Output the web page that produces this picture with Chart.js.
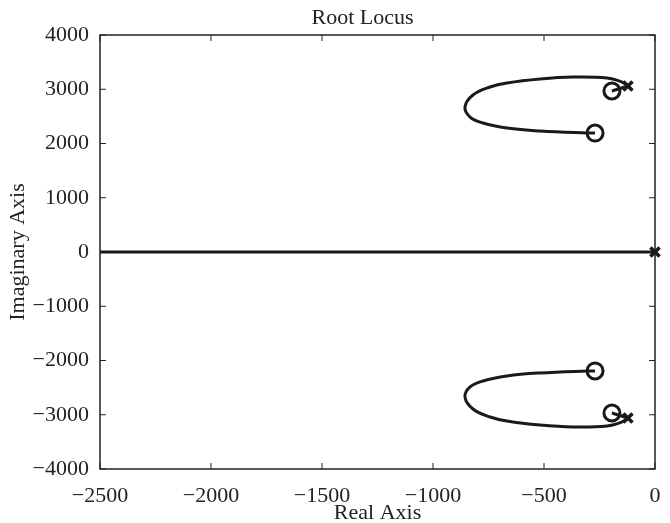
<!DOCTYPE html>
<html>
<head>
<meta charset="utf-8">
<script src="https://cdn.jsdelivr.net/npm/chart.js@4"></script>
<style>
  body { margin: 0; background: #fff; }
  #wrap { width: 670px; height: 523px; }
</style>
</head>
<body>
<div id="wrap"><canvas id="myChart"></canvas></div>
<script>
// values
const xTicks = [-2500, -2000, -1500, -1000, -500, 0];
const yTicks = [-4000, -3000, -2000, -1000, 0, 1000, 2000, 3000, 4000];

const realAxisX = [-2500, 0];
const realAxisY = [0, 0];

const upperLocusX = [-122, -149, -216, -369, -518, -667, -743, -820, -856, -833, -775, -667, -518, -306, -270];
const upperLocusY = [3060, 3133, 3207, 3225, 3189, 3115, 3041, 2894, 2673, 2488, 2378, 2286, 2230, 2193, 2193];
const lowerLocusX = [-122, -149, -216, -369, -518, -667, -743, -820, -856, -833, -775, -667, -518, -306, -270];
const lowerLocusY = [-3060, -3133, -3207, -3225, -3189, -3115, -3041, -2894, -2673, -2488, -2378, -2286, -2230, -2193, -2193];

const upperShortX = [-122, -194];
const upperShortY = [3060, 2968];
const lowerShortX = [-122, -194];
const lowerShortY = [-3060, -2968];

const polesX = [0, -122, -122];
const polesY = [0, 3060, -3060];
const zerosX = [-194, -270, -194, -270];
const zerosY = [2968, 2193, -2968, -2193];

function pts(xs, ys) {
  return xs.map((x, i) => ({ x: x, y: ys[i] }));
}

const fontFam = "'Liberation Serif', 'DejaVu Serif', serif";

// box + inward ticks + title, MATLAB style
const boxPlugin = {
  id: 'box',
  beforeDatasetsDraw(chart) {
    const c = chart.ctx;
    const a = chart.chartArea;
    const xs = chart.scales.x, ys = chart.scales.y;
    c.save();
    c.strokeStyle = '#222';
    c.lineWidth = 1.5;
    c.strokeRect(a.left, a.top, a.right - a.left, a.bottom - a.top);
    c.lineWidth = 1;
    xTicks.forEach(v => {
      const px = xs.getPixelForValue(v);
      c.beginPath();
      c.moveTo(px, a.bottom); c.lineTo(px, a.bottom - 6);
      c.moveTo(px, a.top); c.lineTo(px, a.top + 6);
      c.stroke();
    });
    yTicks.forEach(v => {
      const py = ys.getPixelForValue(v);
      c.beginPath();
      c.moveTo(a.left, py); c.lineTo(a.left + 6, py);
      c.moveTo(a.right, py); c.lineTo(a.right - 6, py);
      c.stroke();
    });
    c.fillStyle = '#222';
    c.font = '22px ' + fontFam;
    c.textAlign = 'center';
    c.textBaseline = 'middle';
    c.fillText('Root Locus', (a.left + a.right) / 2 - 15, 18);
    c.restore();
  }
};

const ctx = document.getElementById('myChart');
const lineStyle = {
  showLine: true,
  borderColor: '#1a1a1a',
  borderWidth: 3,
  pointRadius: 0,
  fill: false
};

new Chart(ctx, {
  type: 'scatter',
  data: {
    datasets: [
      Object.assign({ label: 'real', data: pts(realAxisX, realAxisY), tension: 0 }, lineStyle),
      Object.assign({ label: 'upper', data: pts(upperLocusX, upperLocusY), tension: 0.4 }, lineStyle),
      Object.assign({ label: 'lower', data: pts(lowerLocusX, lowerLocusY), tension: 0.4 }, lineStyle),
      Object.assign({ label: 'upper short', data: pts(upperShortX, upperShortY), tension: 0 }, lineStyle),
      Object.assign({ label: 'lower short', data: pts(lowerShortX, lowerShortY), tension: 0 }, lineStyle),
      {
        label: 'zeros', data: pts(zerosX, zerosY), showLine: false,
        pointStyle: 'circle', pointRadius: 8, borderWidth: 3,
        borderColor: '#1a1a1a', backgroundColor: 'rgba(0,0,0,0)'
      },
      {
        label: 'poles', data: pts(polesX, polesY), showLine: false, clip: false,
        pointStyle: 'crossRot', pointRadius: 6.5, borderWidth: 3.5,
        borderColor: '#1a1a1a'
      }
    ]
  },
  options: {
    responsive: true,
    maintainAspectRatio: false,
    animation: false,
    layout: { padding: { left: 0, right: 15, top: 35, bottom: 0 } },
    plugins: { legend: { display: false }, tooltip: { enabled: false } },
    scales: {
      x: {
        type: 'linear', min: -2500, max: 0,
        afterBuildTicks: s => { s.ticks = xTicks.map(v => ({ value: v })); },
        afterFit: s => { s.height = 54; },
        grid: { display: false },
        border: { display: false },
        ticks: {
          color: '#222', padding: 6,
          font: { family: fontFam, size: 22 },
          callback: v => String(v).replace('-', '\u2212')
        },
        title: {
          display: true, text: 'Real Axis', color: '#222',
          font: { family: fontFam, size: 22 }, padding: { top: 0, bottom: -3 }
        }
      },
      y: {
        type: 'linear', min: -4000, max: 4000,
        afterBuildTicks: s => { s.ticks = yTicks.map(v => ({ value: v })); },
        afterFit: s => { s.width = 100; },
        grid: { display: false },
        border: { display: false },
        ticks: {
          color: '#222', padding: 3,
          font: { family: fontFam, size: 22 },
          callback: v => String(v).replace('-', '\u2212')
        },
        title: {
          display: true, text: 'Imaginary Axis', color: '#222',
          font: { family: fontFam, size: 22 }, padding: { top: 5, bottom: 0 }
        }
      }
    }
  },
  plugins: [boxPlugin]
});
</script>
</body>
</html>
